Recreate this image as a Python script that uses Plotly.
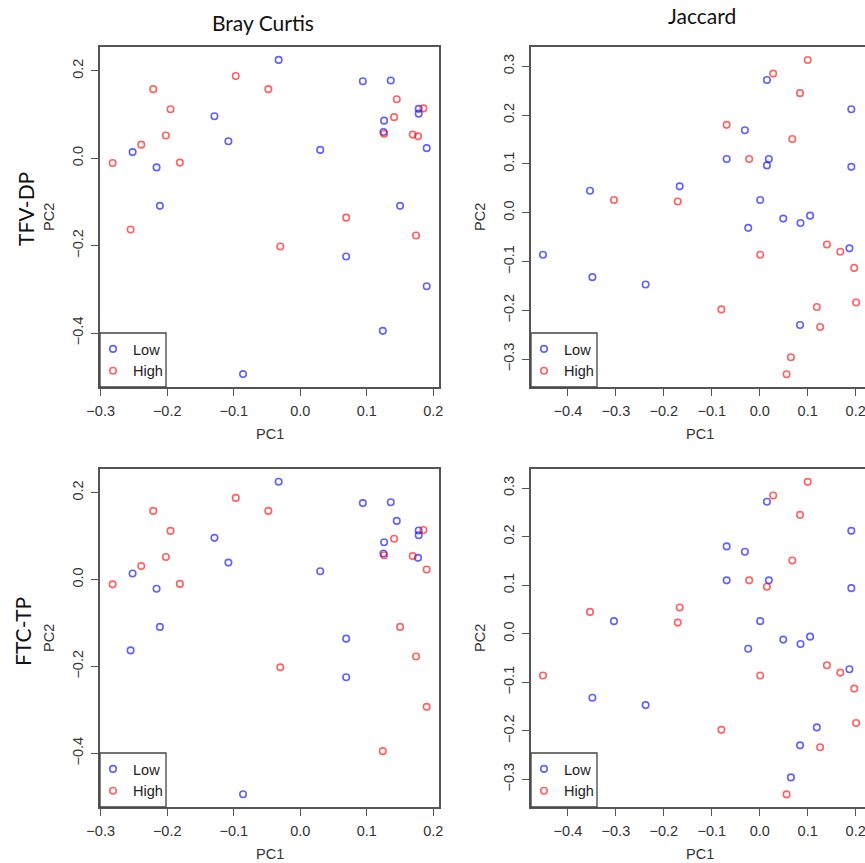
import plotly.graph_objects as go

# ---------------- data ----------------
groups = ["Low", "High"]
colors = {"Low": "rgba(0,0,255,0.62)", "High": "rgba(255,0,0,0.62)"}

bc_x = [-0.0325, 0.094, 0.136, -0.129, -0.108, 0.126, 0.125, 0.178, 0.178, 0.190,
        -0.252, -0.216, -0.211, 0.030, 0.150, 0.069, 0.190, 0.124, -0.086,
        -0.097, -0.048, -0.221, -0.195, -0.202, -0.239, -0.282, -0.181, -0.255,
        0.145, 0.141, 0.126, 0.185, 0.169, 0.177, 0.069, -0.030, 0.174]
bc_y = [0.225, 0.176, 0.178, 0.096, 0.039, 0.086, 0.060, 0.113, 0.102, 0.023,
        0.014, -0.021, -0.109, 0.019, -0.109, -0.225, -0.293, -0.395, -0.494,
        0.188, 0.158, 0.158, 0.112, 0.052, 0.031, -0.011, -0.010, -0.163,
        0.135, 0.094, 0.056, 0.114, 0.054, 0.050, -0.136, -0.202, -0.177]
bc_tfv = ["Low"] * 19 + ["High"] * 18
bc_ftc = ["Low", "Low", "Low", "Low", "Low", "Low", "Low", "Low", "Low", "High",
          "Low", "Low", "Low", "Low", "High", "Low", "High", "High", "Low",
          "High", "High", "High", "High", "High", "High", "High", "High", "Low",
          "Low", "High", "High", "High", "High", "Low", "Low", "High", "High"]

jac_x = [0.015, 0.191, -0.031, -0.069, 0.019, 0.015, 0.191, -0.354, -0.167, 0.001,
         -0.024, 0.049, 0.085, 0.105, 0.187, -0.452, -0.349, -0.238, 0.084,
         0.100, 0.028, 0.084, -0.069, 0.068, -0.022, -0.304, -0.171, 0.001,
         0.140, 0.168, 0.197, 0.201, -0.080, 0.119, 0.126, 0.065, 0.056]
jac_y = [0.272, 0.212, 0.169, 0.110, 0.110, 0.097, 0.094, 0.045, 0.054, 0.026,
         -0.031, -0.012, -0.021, -0.006, -0.073, -0.086, -0.132, -0.147, -0.230,
         0.313, 0.285, 0.245, 0.180, 0.151, 0.110, 0.026, 0.023, -0.086,
         -0.065, -0.080, -0.113, -0.184, -0.198, -0.193, -0.234, -0.296, -0.331]
jac_tfv = ["Low"] * 19 + ["High"] * 18
jac_ftc = ["Low", "Low", "Low", "Low", "Low", "High", "Low", "High", "High", "Low",
           "Low", "Low", "Low", "Low", "Low", "High", "Low", "Low", "Low",
           "High", "High", "High", "Low", "High", "High", "Low", "High", "High",
           "High", "High", "High", "High", "High", "Low", "High", "Low", "High"]

col_titles = ["Bray Curtis", "Jaccard"]
row_titles = ["TFV-DP", "FTC-TP"]
x_title = "PC1"
y_title = "PC2"
bc_xticks = [-0.3, -0.2, -0.1, 0.0, 0.1, 0.2]
bc_yticks = [-0.4, -0.2, 0.0, 0.2]
jac_xticks = [-0.4, -0.3, -0.2, -0.1, 0.0, 0.1, 0.2]
jac_yticks = [-0.3, -0.2, -0.1, 0.0, 0.1, 0.2, 0.3]

# ---------------- layout geometry (pixels) ----------------
W, H = 865, 863
def px_x(p):
    return p / W
def px_y(p):
    return 1 - p / H

col_px = [(100, 439), (531, 865)]
row_px = [(47, 387), (469, 807)]
col_dom = [[px_x(a), px_x(b)] for a, b in col_px]
row_dom = [[px_y(b), px_y(a)] for a, b in row_px]

panels = [
    (0, 0, bc_x, bc_y, bc_tfv, [-0.301, 0.2085], [-0.5235, 0.2545], bc_xticks, bc_yticks),
    (0, 1, jac_x, jac_y, jac_tfv, [-0.477, 0.2195], [-0.357, 0.3395], jac_xticks, jac_yticks),
    (1, 0, bc_x, bc_y, bc_ftc, [-0.301, 0.2085], [-0.5235, 0.2545], bc_xticks, bc_yticks),
    (1, 1, jac_x, jac_y, jac_ftc, [-0.477, 0.2195], [-0.357, 0.3395], jac_xticks, jac_yticks),
]

fig = go.Figure()
sans = "Liberation Sans, Arial, sans-serif"
axis_font = dict(family=sans, size=14.5, color="#333")
line_col = "#555"
shapes = []
annotations = []

for i, (r, c, xs, ys, grp, xr, yr, xt, yt) in enumerate(panels):
    n = i + 1
    xa = "x" if n == 1 else f"x{n}"
    ya = "y" if n == 1 else f"y{n}"
    leg = "legend" if n == 1 else f"legend{n}"
    for g in groups:
        gx = [x for x, gg in zip(xs, grp) if gg == g]
        gy = [y for y, gg in zip(ys, grp) if gg == g]
        fig.add_trace(go.Scatter(
            x=gx, y=gy, mode="markers", name=g, xaxis=xa, yaxis=ya, legend=leg,
            marker=dict(symbol="circle-open", size=6.5, color=colors[g],
                        line=dict(width=1.6, color=colors[g])),
        ))
    xkey = "xaxis" if n == 1 else f"xaxis{n}"
    ykey = "yaxis" if n == 1 else f"yaxis{n}"
    fig.layout[xkey] = dict(
        domain=col_dom[c], anchor=ya, range=xr, tickvals=xt, tickformat=".1f",
        showgrid=False, zeroline=False, showline=True, mirror=True, automargin=False,
        linecolor=line_col, linewidth=1.5, ticks="outside", ticklen=7,
        tickwidth=1.3, tickcolor=line_col, tickfont=axis_font,
        ticklabelstandoff=3, ticklabeloverflow="allow",
    )
    fig.layout[ykey] = dict(
        domain=row_dom[r], anchor=xa, range=yr, tickvals=yt, tickformat=".1f",
        showgrid=False, zeroline=False, showline=True, mirror=(c == 0), automargin=False,
        linecolor=line_col, linewidth=1.5, ticks="outside", ticklen=7,
        tickwidth=1.3, tickcolor=line_col, tickfont=axis_font, tickangle=-90,
        ticklabelstandoff=2, ticklabeloverflow="allow",
    )
    left, right = col_px[c]
    top, bottom = row_px[r]
    # legend (entries) and its frame
    fig.layout[leg] = dict(
        x=px_x(left - 7), y=px_y(bottom - 54), xanchor="left", yanchor="top",
        xref="paper", yref="paper", bgcolor="rgba(0,0,0,0)",
        borderwidth=0, font=dict(family=sans, size=14.5, color="#222"),
        itemwidth=30, tracegroupgap=0,
    )
    shapes.append(dict(type="rect", xref="paper", yref="paper",
                       x0=px_x(left), x1=px_x(left + 66),
                       y0=px_y(bottom), y1=px_y(bottom - 54),
                       line=dict(color="#444", width=1.3), fillcolor="white",
                       layer="above"))
    # axis titles
    annotations.append(dict(text=x_title, x=px_x((left + right) / 2 if c == 0 else 699.5),
                            y=px_y(bottom + 47), font=axis_font))
    annotations.append(dict(text=y_title, x=px_x(left - 51), y=px_y((top + bottom) / 2),
                            textangle=-90, font=axis_font))

title_font = dict(family="Lato, Open Sans, sans-serif", size=21, color="#111")
annotations += [
    dict(text=col_titles[0], x=px_x(263), y=px_y(22), font=title_font),
    dict(text=col_titles[1], x=px_x(702), y=px_y(16), font=title_font),
    dict(text=row_titles[0], x=px_x(25), y=px_y(209), textangle=-90, font=title_font),
    dict(text=row_titles[1], x=px_x(22), y=px_y(632), textangle=-90, font=title_font),
]
for a in annotations:
    a.update(xref="paper", yref="paper", showarrow=False, xanchor="center",
             yanchor="middle")
    fig.add_annotation(**a)

fig.update_layout(
    width=W, height=H, autosize=False,
    margin=dict(l=0, r=0, t=0, b=0, autoexpand=False),
    paper_bgcolor="white", plot_bgcolor="white",
    showlegend=True, shapes=shapes,
)

fig.write_html("out.html", config={"displayModeBar": False},
               post_script="document.body.style.margin='0';")
